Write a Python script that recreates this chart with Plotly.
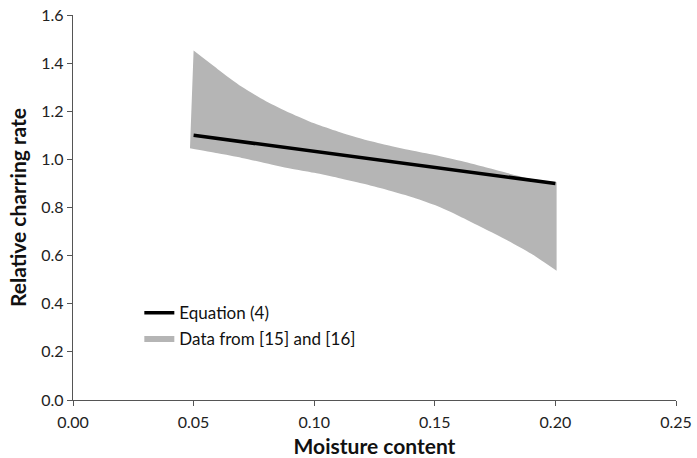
import plotly.graph_objects as go

# Equation (4)
eq_x = [0.05, 0.10, 0.15, 0.20]
eq_y = [1.10, 1.033, 0.967, 0.90]

# Data band from [15] and [16]
upper_x = [0.0500, 0.060, 0.070, 0.080, 0.090, 0.100, 0.110, 0.120, 0.130,
           0.140, 0.150, 0.160, 0.170, 0.180, 0.190, 0.2005]
upper_y = [1.452, 1.375, 1.302, 1.242, 1.193, 1.150, 1.115, 1.085, 1.060,
           1.038, 1.018, 0.995, 0.970, 0.943, 0.918, 0.905]
lower_x = [0.0485, 0.060, 0.070, 0.080, 0.090, 0.100, 0.110, 0.120, 0.130,
           0.140, 0.150, 0.160, 0.170, 0.180, 0.190, 0.2005]
lower_y = [1.046, 1.025, 1.006, 0.984, 0.962, 0.944, 0.923, 0.900, 0.874,
           0.845, 0.810, 0.765, 0.715, 0.664, 0.608, 0.537]

x_ticks = [0.00, 0.05, 0.10, 0.15, 0.20, 0.25]
y_ticks = [0.0, 0.2, 0.4, 0.6, 0.8, 1.0, 1.2, 1.4, 1.6]

FONT = "Lato"
BAND = "#b5b5b5"
fig = go.Figure()
fig.add_trace(go.Scatter(
    x=lower_x, y=lower_y, mode="lines",
    line=dict(width=0, color=BAND, shape="spline", smoothing=0.7),
    showlegend=False, hoverinfo="skip"))
fig.add_trace(go.Scatter(
    x=upper_x, y=upper_y, mode="lines", fill="tonexty",
    fillcolor=BAND, line=dict(width=0, color=BAND, shape="spline", smoothing=0.7),
    name="Data from [15] and [16]", legendrank=2, hoverinfo="skip"))
fig.add_trace(go.Scatter(
    x=eq_x, y=eq_y, mode="lines", line=dict(color="#000000", width=3.5),
    name="Equation (4)", legendrank=1))

axis_common = dict(showline=True, linecolor="#555555", linewidth=1.3,
                   ticks="outside", ticklen=5, tickcolor="#555555",
                   showgrid=False, zeroline=False, automargin=False,
                   tickfont=dict(family=FONT, size=16, color="#222222"))
fig.update_xaxes(range=[0, 0.25], tickvals=x_ticks,
                 ticktext=[f"{v:.2f}" for v in x_ticks],
                 ticklabelstandoff=3,
                 title=dict(text="<b>Moisture content</b>", standoff=10,
                            font=dict(family=FONT, size=21, color="#111111")),
                 **axis_common)
fig.update_yaxes(range=[0, 1.6], tickvals=y_ticks,
                 ticktext=[f"{v:.1f}" for v in y_ticks],
                 title=dict(text="<b>Relative charring rate</b>", standoff=8,
                            font=dict(family=FONT, size=21, color="#111111")),
                 **axis_common)
fig.update_layout(
    width=697, height=458,
    margin=dict(l=73, r=21, t=15, b=58),
    plot_bgcolor="white", paper_bgcolor="white",
    showlegend=True,
    legend=dict(x=0.11, y=0.272, xanchor="left", yanchor="top",
                traceorder="normal",
                bgcolor="rgba(0,0,0,0)",
                font=dict(family=FONT, size=17, color="#111111"),
                tracegroupgap=10),
)
fig.write_html("out.html")
